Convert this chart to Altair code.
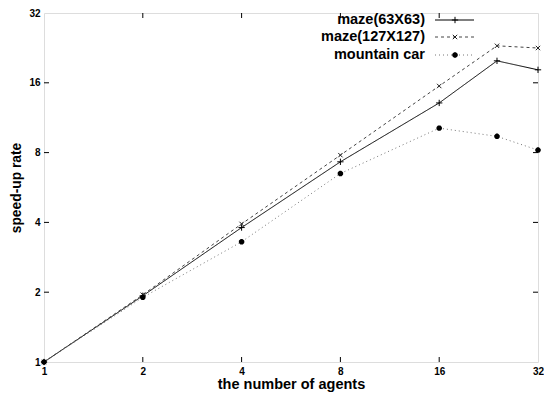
import altair as alt
import pandas as pd

agents = [1, 2, 4, 8, 16, 24, 32]
maze63 = [1.0, 1.93, 3.8, 7.3, 13.1, 19.9, 18.2]
maze127 = [1.0, 1.95, 3.94, 7.8, 15.5, 23.1, 22.6]
mountain = [1.0, 1.9, 3.3, 6.5, 10.2, 9.4, 8.2]
series_names = ["maze(63X63)", "maze(127X127)", "mountain car"]
tick_values = [1, 2, 4, 8, 16, 32]
inner_ticks = [2, 4, 8, 16]

W, H = 494, 349
FONT = "Liberation Sans"

xscale = alt.Scale(type="log", base=2, domain=[1, 32], nice=False)
yscale = alt.Scale(type="log", base=2, domain=[1, 32], nice=False)

xaxis = alt.Axis(values=tick_values, format="d", ticks=False, domain=False, grid=False,
                 labelFlush=False, labelPadding=4, labelFont=FONT, labelFontWeight="bold",
                 labelFontSize=10, labelColor="black", title="the number of agents",
                 titleFont=FONT, titleFontWeight="bold", titleFontSize=14.5, titleColor="black",
                 titlePadding=1)
yaxis = alt.Axis(values=tick_values, format="d", ticks=False, domain=False, grid=False,
                 labelFlush=False, labelPadding=4, labelFont=FONT, labelFontWeight="bold",
                 labelFontSize=10, labelColor="black", title="speed-up rate",
                 titleFont=FONT, titleFontWeight="bold", titleFontSize=13.8, titleColor="black",
                 titlePadding=5)

PLUS = "M-1,0L1,0M0,-1L0,1"
CROSS = "M-0.8,-0.8L0.8,0.8M-0.8,0.8L0.8,-0.8"
STAR = "M-1,0L1,0M0,-1L0,1M-0.7,-0.7L0.7,0.7M-0.7,0.7L0.7,-0.7"

styles = [
    dict(color="#000000", dash=[1, 0], shape=PLUS, mcolor="#000000", msize=40, mw=1),
    dict(color="#444444", dash=[3, 3], shape=CROSS, mcolor="#222222", msize=30, mw=1),
    dict(color="#777777", dash=[1, 3], shape=STAR, mcolor="#000000", msize=30, mw=2),
]

values = [maze63, maze127, mountain]
legend_rows = [7, 24, 42]

layers = []
for name, vals, st in zip(series_names, values, styles):
    df = pd.DataFrame({"agents": agents, "rate": vals, "series": name})
    base = alt.Chart(df).encode(
        x=alt.X("agents:Q", scale=xscale, axis=xaxis),
        y=alt.Y("rate:Q", scale=yscale, axis=yaxis),
    )
    layers.append(base.mark_line(color=st["color"], strokeDash=st["dash"], strokeWidth=1))
    layers.append(base.mark_point(shape=st["shape"], filled=False, color=st["mcolor"],
                                  size=st["msize"], strokeWidth=st["mw"], opacity=1))

# gnuplot-style inward ticks
tdf = pd.DataFrame({"agents": inner_ticks, "rate": inner_ticks})
tx = alt.X("agents:Q", scale=xscale, axis=xaxis)
ty = alt.Y("rate:Q", scale=yscale, axis=yaxis)
layers.append(alt.Chart(tdf).mark_rule(color="black").encode(x=tx, y=alt.value(H), y2=alt.value(H - 5)))
layers.append(alt.Chart(tdf).mark_rule(color="black").encode(x=tx, y=alt.value(0), y2=alt.value(5)))
layers.append(alt.Chart(tdf).mark_rule(color="black").encode(y=ty, x=alt.value(0), x2=alt.value(5)))
layers.append(alt.Chart(tdf).mark_rule(color="black").encode(y=ty, x=alt.value(W - 5), x2=alt.value(W)))

# legend (gnuplot style: label then sample)
for name, st, ry in zip(series_names, styles, legend_rows):
    ldf = pd.DataFrame({"label": [name]})
    layers.append(alt.Chart(ldf).mark_text(align="right", baseline="middle", font=FONT,
                                           fontWeight="bold", fontSize=14.5, color="black")
                  .encode(text="label:N", x=alt.value(381), y=alt.value(ry)))
    layers.append(alt.Chart(ldf).mark_rule(color=st["color"], strokeDash=st["dash"], strokeWidth=1)
                  .encode(x=alt.value(391), x2=alt.value(430), y=alt.value(ry)))
    layers.append(alt.Chart(ldf).mark_point(shape=st["shape"], filled=False, color=st["mcolor"],
                                            size=st["msize"], strokeWidth=st["mw"], opacity=1)
                  .encode(x=alt.value(411), y=alt.value(ry)))

chart = alt.layer(*layers).properties(
    width=W, height=H,
    autosize=alt.AutoSizeParams(type="none"),
    padding={"left": 36, "top": 5, "right": 6, "bottom": 30},
).configure_view(stroke="black", strokeWidth=1.2).configure(background="white")

chart.save("out.html", embed_options={"renderer": "svg", "actions": False})
